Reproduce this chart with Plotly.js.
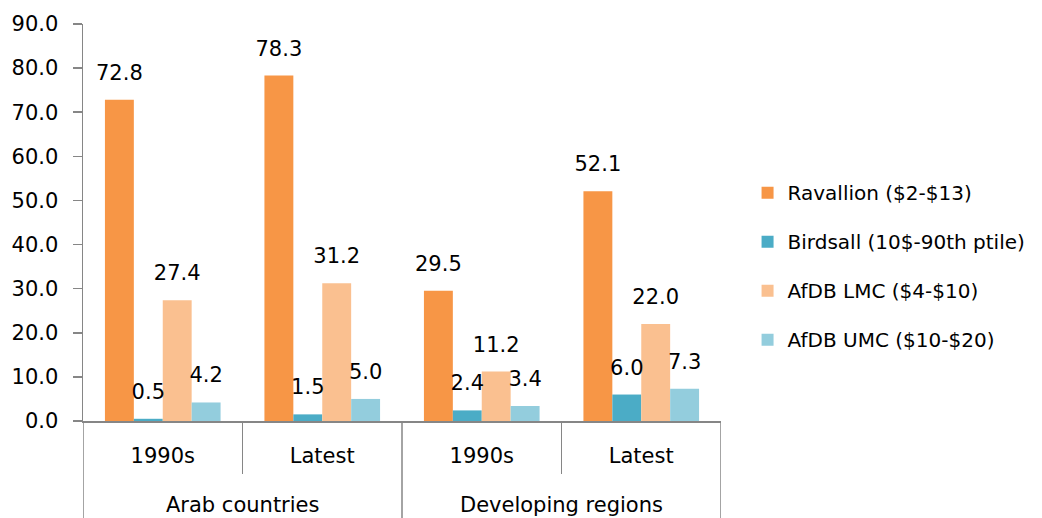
<!DOCTYPE html>
<html>
<head>
<meta charset="utf-8">
<script src="https://cdn.plot.ly/plotly-3.0.1.min.js"></script>
<style>html,body{margin:0;padding:0;background:#fff;}#chart{width:1042px;height:518px;}</style>
</head>
<body>
<div id="chart"></div>
<script>
const groups = ["Arab countries", "Arab countries", "Developing regions", "Developing regions"];
const periods = ["1990s", "Latest", "1990s", "Latest"];
const seriesNames = ["Ravallion ($2-$13)", "Birdsall (10$-90th ptile)", "AfDB LMC ($4-$10)", "AfDB UMC ($10-$20)"];
const ravallion = [72.8, 78.3, 29.5, 52.1];
const birdsall = [0.5, 1.5, 2.4, 6.0];
const afdbLMC = [27.4, 31.2, 11.2, 22.0];
const afdbUMC = [4.2, 5.0, 3.4, 7.3];
const colors = ["#F79646", "#4BACC6", "#FAC090", "#93CDDD"];

const FONT = "'DejaVu Sans', sans-serif";
const AXIS = "#868686";
const BARGAP = 0.275;
const allValues = [ravallion, birdsall, afdbLMC, afdbUMC];
const nSeries = allValues.length;
const catIdx = periods.map((_, i) => i);
const barW = (1 - BARGAP) / nSeries;

const barTraces = allValues.map((vals, j) => ({
  type: "bar",
  name: seriesNames[j],
  x: catIdx,
  y: vals,
  marker: {color: colors[j], line: {width: 0}},
  legendgroup: "g" + j,
  hoverinfo: "none"
}));

// value labels, positioned at each bar's centre through the x scale
const labelTraces = allValues.map((vals, j) => ({
  type: "scatter",
  mode: "markers+text",
  x: catIdx.map(i => i + (j - (nSeries - 1) / 2) * barW),
  y: vals,
  text: vals.map(v => v.toFixed(1)),
  textposition: "top center",
  textfont: {family: FONT, size: 21, color: "#000"},
  marker: {size: 22, opacity: 0},
  cliponaxis: false,
  showlegend: false,
  hoverinfo: "none"
}));

// group boundaries and group centres derived from the groups array
const groupNames = [...new Set(groups)];
const groupCenters = groupNames.map(g => {
  const idx = catIdx.filter(i => groups[i] === g);
  return (idx[0] + idx[idx.length - 1]) / 2;
});
const groupBounds = [-0.5];
catIdx.forEach(i => { if (i === catIdx.length - 1 || groups[i] !== groups[i + 1]) groupBounds.push(i + 0.5); });
const subBounds = catIdx.slice(0, -1).map(i => i + 0.5).filter(b => !groupBounds.includes(b));

const layout = {
  width: 1042,
  height: 518,
  margin: {l: 83, r: 320, t: 24, b: 97},
  paper_bgcolor: "#fff",
  plot_bgcolor: "#fff",
  barmode: "group",
  bargap: BARGAP,
  bargroupgap: 0,
  font: {family: FONT, size: 21, color: "#000"},
  showlegend: true,
  legend: {
    x: 1.04, xanchor: "left", y: 0.39, yanchor: "middle",
    font: {family: FONT, size: 20, color: "#000"},
    tracegroupgap: 20,
    itemwidth: 30
  },
  xaxis: {
    range: [-0.5, catIdx.length - 0.5],
    tickvals: catIdx, ticktext: periods,
    ticks: "", ticklabelstandoff: 15,
    minor: {tickvals: subBounds, ticks: "outside", ticklen: 51, tickcolor: AXIS, tickwidth: 1.5},
    showline: true, linecolor: AXIS, linewidth: 1.5,
    tickfont: {family: FONT, size: 21, color: "#000"},
    showgrid: false, zeroline: false, fixedrange: true
  },
  yaxis: {
    range: [0, 90], dtick: 10, tick0: 0, tickformat: ".1f",
    showline: true, linecolor: AXIS, linewidth: 1.5,
    ticks: "outside", ticklen: 9, tickcolor: AXIS, tickwidth: 1.5,
    ticklabelstandoff: 10,
    showgrid: false, zeroline: false,
    tickfont: {family: FONT, size: 21, color: "#000"}
  },
  shapes: groupBounds.map(b => ({
    type: "line", xref: "x", yref: "paper",
    x0: b, x1: b, y0: 0, y1: -0.3,
    line: {color: AXIS, width: 1.5}
  })),
  annotations: groupNames.map((g, k) => ({
    xref: "x", yref: "paper", x: groupCenters[k], y: -0.212,
    yanchor: "middle", showarrow: false, text: g,
    font: {family: FONT, size: 21, color: "#000"}
  }))
};

Plotly.newPlot("chart", barTraces.concat(labelTraces), layout, {staticPlot: true, displayModeBar: false});
</script>
</body>
</html>
